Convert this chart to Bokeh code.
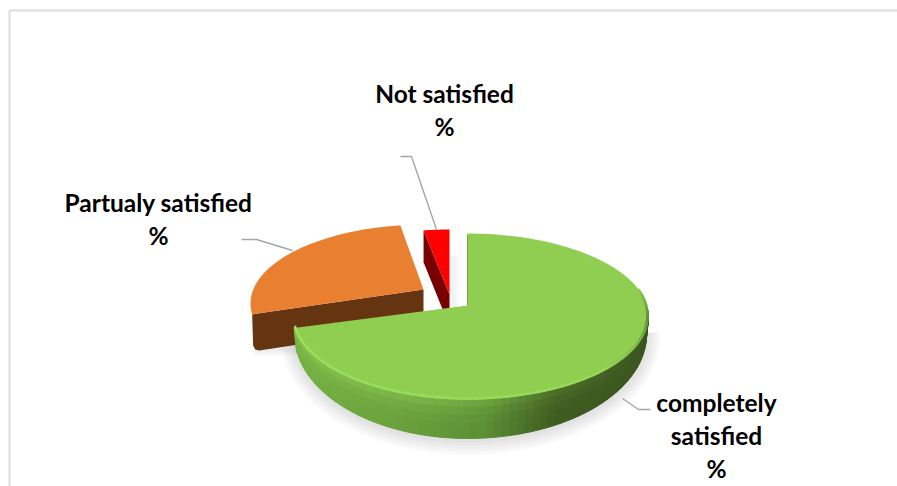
import math
from bokeh.plotting import figure
from bokeh.models import Range1d
from bokeh.core.properties import value
from bokeh.embed import file_html
from bokeh.resources import INLINE

# Chart content
categories = ["completely satisfied", "Partualy satisfied", "Not satisfied"]
shares = [72.8, 24.9, 2.3]
label_texts = ["completely\nsatisfied\n%", "Partualy satisfied\n%", "Not satisfied\n%"]
face_colors = ["#8fce50", "#e97f30", "#fe0000"]
wall_colors = ["#5f9438", "#653411", "#780000"]

W, H = 897, 486
p = figure(width=W, height=H, output_backend="svg", toolbar_location=None,
           x_range=Range1d(0, W), y_range=Range1d(H, 0), min_border=0, tools="")
p.axis.visible = False
p.grid.visible = False
p.outline_line_color = None
p.background_fill_color = "white"
p.border_fill_color = "white"

# Frame of the chart area
p.line([9, 9], [486, 10], line_color="#dcdcdc", line_width=2)
p.line([9, 897], [10, 10], line_color="#dcdcdc", line_width=2)


def hex2rgb(c):
    return tuple(int(c[i:i + 2], 16) for i in (1, 3, 5))


def mix(a, b, t):
    ra, rb = hex2rgb(a), hex2rgb(b)
    return "#%02x%02x%02x" % tuple(round(x + (y - x) * t) for x, y in zip(ra, rb))


def ramp(stops, t):
    t = max(stops[0][0], min(stops[-1][0], t))
    for (t0, c0), (t1, c1) in zip(stops, stops[1:]):
        if t <= t1:
            return mix(c0, c1, (t - t0) / (t1 - t0))
    return stops[-1][1]


def rim(cx, cy, rx, ry, deg, rx_left=None):
    a = math.radians(deg)
    s = math.sin(a)
    r = rx if (s >= 0 or rx_left is None) else rx_left
    return cx + r * s, cy - ry * math.cos(a)


def arc(cx, cy, rx, ry, a0, a1, n=60, rx_left=None):
    return [rim(cx, cy, rx, ry, a0 + (a1 - a0) * i / n, rx_left) for i in range(n + 1)]


# Slice angles, clockwise from twelve o'clock
edges = [0]
for s in shares:
    edges.append(edges[-1] + s * 3.6)
g0, g1 = edges[0], edges[1]
o0, o1 = edges[1], edges[2]
r0, r1 = edges[2], edges[3]

# Ellipses for the large slice: top face and foot of the wall
tx, ty, tw, tw_l, th = 467, 316, 181, 175, 83
bx, by, bw, bw_l, bh = 467, 334, 179, 173, 104

# Soft shadow under the large slice
for grow in [14, 11, 8, 5, 2]:
    pts = arc(bx, by + 2, bw + grow, bh + grow, 88, 268, 80, bw_l + grow)
    p.patch([q[0] for q in pts], [q[1] for q in pts], fill_color="#8a8a8a",
            fill_alpha=0.05, line_color=None)

# Faint shadow beside the small slice
for grow in [6, 3]:
    p.patch([449, 452 + grow, 452 + grow, 449], [255, 255, 306, 306],
            fill_color="#8a8a8a", fill_alpha=0.05, line_color=None)

# Not-satisfied slice: cut wall, then face
ax, ay = 449, 294
cx, cy, rx, ry = 449, 306, 180, 77
lx, ly = rim(cx, cy, rx, ry, r0)
p.patch([lx, ax, ax, lx], [ly, ay, ay + 32, ly + 32], fill_color=wall_colors[2], line_color=None)
pts = [(ax, ay)] + arc(cx, cy, rx, ry, r0, r1, 10)
p.patch([q[0] for q in pts], [q[1] for q in pts], fill_color=face_colors[2], line_color=None)

# Partly-satisfied slice: cut wall with rounded foot, then face
ax, ay = 423, 289
cx, cy, rx, ry = 425, 303, 175, 79
lx, ly = rim(cx, cy, rx, ry, o0)
for grow in [5, 3, 1]:
    p.patch([lx - grow + 2, 300, 300, lx + 6 - grow],
            [ly + 4, ly + 4, ly + 36 + grow, ly + 36 + grow],
            fill_color="#8a8a8a", fill_alpha=0.05, line_color=None)
p.patch([lx, ax, ax, lx + 7, lx + 3, lx + 1], [ly, ay, ay + 36, ly + 36, ly + 35, ly + 31],
        fill_color=wall_colors[1], line_color=None)
pts = [(ax, ay)] + arc(cx, cy, rx, ry, o0, o1)
p.patch([q[0] for q in pts], [q[1] for q in pts], fill_color=face_colors[1], line_color=None)

# Completely-satisfied slice: shaded outer wall built from small quads
col_stops = [(0.0, "#3a5520"), (0.26, "#3f5c20"), (0.46, "#5c9035"), (0.70, "#6aa13c"), (1.0, "#76b243")]
steps = 70
rows = 5
for i in range(steps):
    a = 86 + (g1 - 86) * i / steps
    b = 86 + (g1 - 86) * (i + 1) / steps
    mid_x = (math.sin(math.radians((a + b) / 2)) + 1) / 2
    base = ramp(col_stops, 1 - mid_x)
    for j in range(rows):
        t0, t1 = j / rows, (j + 1) / rows
        xs, ys = [], []
        for ang, t in ((a, t0), (b, t0), (b, t1), (a, t1)):
            x0, y0 = rim(tx, ty, tw, th, ang, tw_l)
            x1, y1 = rim(bx, by, bw, bh, ang, bw_l)
            xs.append(x0 + (x1 - x0) * t)
            ys.append(y0 + (y1 - y0) * t)
        lift = 0.35 * (1 - t0) ** 3 * min(1, (1 - mid_x) * 1.6)
        shade = mix(base, "#9ad85c", lift)
        p.patch(xs, ys, fill_color=shade, line_color=shade, line_width=1)

# Top face of the large slice
ax, ay = 467, 305
pts = [(ax, ay)] + arc(tx, ty, tw, th, g0, g1, 160, tw_l)
p.patch([q[0] for q in pts], [q[1] for q in pts], fill_color=face_colors[0], line_color=None)

# Bevel along the outer edge of the top face, shaded by direction
bevel_stops = [(72, "#8fce50"), (92, "#5e8f35"), (110, "#7fb848"), (132, "#96d858"), (g1, "#9ade5c")]
n_bevel = 90
for i in range(n_bevel):
    a = 72 + (g1 - 72) * i / n_bevel
    b = 72 + (g1 - 72) * (i + 1) / n_bevel
    c = ramp(bevel_stops, (a + b) / 2)
    q0, q1 = rim(tx, ty - 1, tw - 1, th, a, tw_l - 1), rim(tx, ty - 1, tw - 1, th, b, tw_l - 1)
    p.line([q0[0], q1[0]], [q0[1], q1[1]], line_color=c, line_width=2.6, line_cap="round")
p.line([467, 467], [234, 305], line_color="#5f9438", line_width=0.8)

# Leader lines
leader_color = "#a6a6a6"
p.line([622, 638, 650], [398, 409, 409], line_color=leader_color, line_width=1.4)
p.line([241, 256, 292], [239, 239, 250], line_color=leader_color, line_width=1.4)
p.line([400, 411, 436], [156, 156, 229], line_color=leader_color, line_width=1.4)

# Data labels
p.text(x=[716, 158, 444], y=[387, 187, 78], text=label_texts,
       text_font=value("Lato"), text_font_style="bold", text_font_size="24.5px",
       text_color="#000000", text_align="center", text_baseline="top",
       text_line_height=1.14)

open("out.html", "w").write(file_html(p, INLINE))
